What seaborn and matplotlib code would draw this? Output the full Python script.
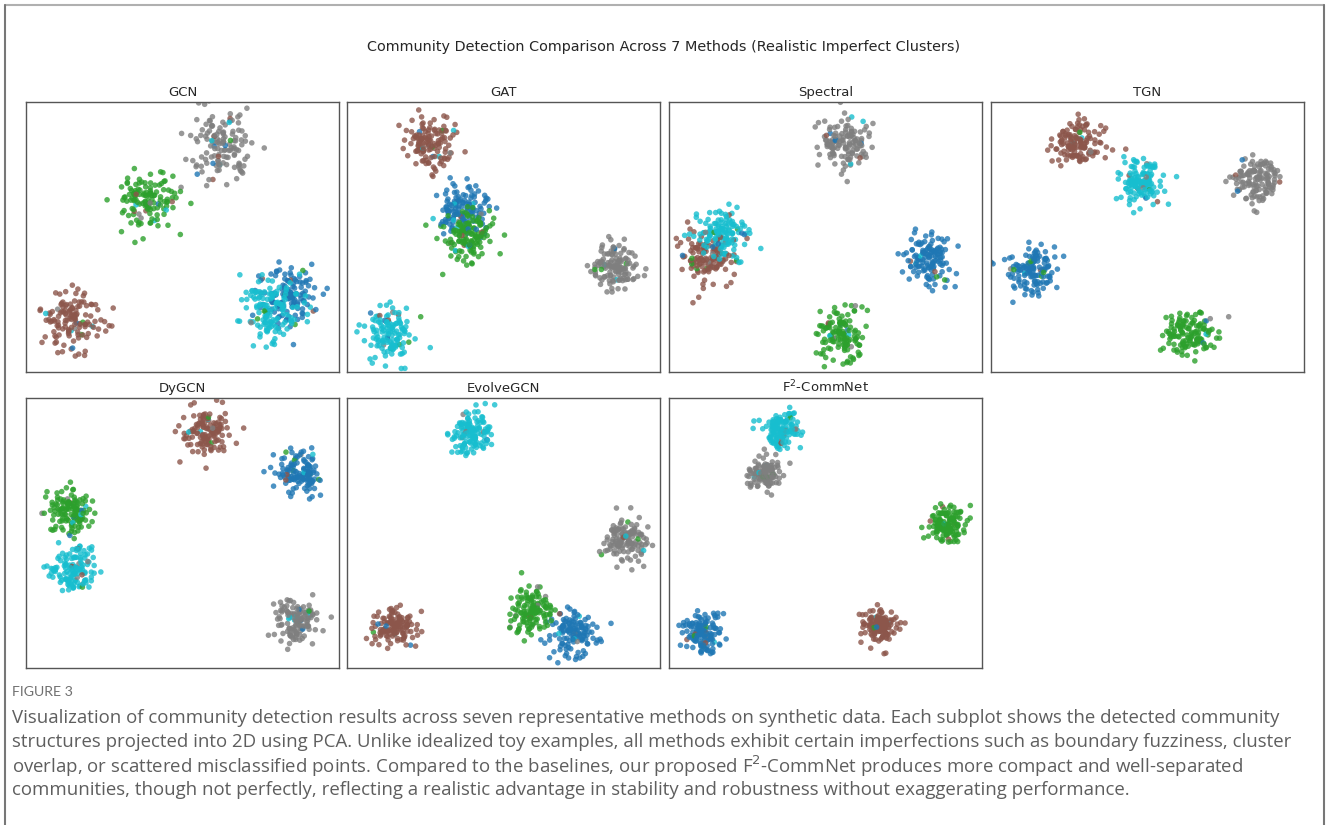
import numpy as np
import pandas as pd
import matplotlib
matplotlib.use("Agg")
import matplotlib.pyplot as plt
from matplotlib.lines import Line2D
import seaborn as sns

sns.set_theme(style="white")
plt.rcParams["font.family"] = ["DejaVu Sans"]

# ---- data -------------------------------------------------------------
methods = ["GCN", "GAT", "Spectral", "TGN", "DyGCN", "EvolveGCN", "F$^2$-CommNet"]
communities = [0, 1, 2, 3, 4]          # 0 blue, 1 green, 2 brown, 3 gray, 4 cyan

# community centres (x, y) in each panel's unit square, order = communities
centers_gcn = [(0.85, 0.29), (0.40, 0.64), (0.15, 0.19), (0.62, 0.84), (0.79, 0.23)]
centers_gat = [(0.37, 0.60), (0.39, 0.50), (0.27, 0.85), (0.85, 0.39), (0.14, 0.14)]
centers_spectral = [(0.83, 0.41), (0.55, 0.14), (0.125, 0.42), (0.56, 0.85), (0.17, 0.51)]
centers_tgn = [(0.13, 0.37), (0.64, 0.14), (0.28, 0.85), (0.85, 0.72), (0.48, 0.70)]
centers_dygcn = [(0.87, 0.72), (0.14, 0.58), (0.58, 0.88), (0.87, 0.17), (0.15, 0.36)]
centers_evolve = [(0.72, 0.13), (0.59, 0.21), (0.15, 0.15), (0.89, 0.48), (0.40, 0.87)]
centers_f2 = [(0.11, 0.13), (0.89, 0.53), (0.67, 0.15), (0.31, 0.72), (0.36, 0.88)]
centers = [centers_gcn, centers_gat, centers_spectral, centers_tgn,
           centers_dygcn, centers_evolve, centers_f2]

# cluster spread (std, fraction of panel width) and share of mislabelled nodes
spread = [0.050, 0.040, 0.040, 0.040, 0.036, 0.034, 0.028]
mislabel_rate = [0.08, 0.07, 0.07, 0.06, 0.06, 0.05, 0.04]
nodes_per_community = 130

palette = {0: "#1f77b4", 1: "#2ca02c", 2: "#8c564b", 3: "#7f7f7f", 4: "#17becf"}

title = "Community Detection Comparison Across 7 Methods (Realistic Imperfect Clusters)"
caption_head = "FIGURE 3"
caption_lines = [
    "Visualization of community detection results across seven representative methods on synthetic data. Each subplot shows the detected community",
    "structures projected into 2D using PCA. Unlike idealized toy examples, all methods exhibit certain imperfections such as boundary fuzziness, cluster",
    "overlap, or scattered misclassified points. Compared to the baselines, our proposed F$^2$-CommNet produces more compact and well-separated",
    "communities, though not perfectly, reflecting a realistic advantage in stability and robustness without exaggerating performance.",
]

# ---- synthetic embeddings ---------------------------------------------
rng = np.random.default_rng(7)
W, H = 1327, 825
panel_w, panel_h = 313, 270
aspect = panel_w / panel_h


def embed(cent, sd, rate):
    rows = []
    for c, (cx, cy) in zip(communities, cent):
        xs = rng.normal(cx, sd, nodes_per_community)
        ys = rng.normal(cy, sd * aspect, nodes_per_community)
        lab = np.full(nodes_per_community, c)
        flip = rng.random(nodes_per_community) < rate
        others = [o for o in communities if o != c]
        lab[flip] = rng.choice(others, flip.sum())
        rows.append(pd.DataFrame({"x": xs, "y": ys, "label": lab}))
    return pd.concat(rows, ignore_index=True)


# ---- figure -----------------------------------------------------------
fig = plt.figure(figsize=(W / 100, H / 100), dpi=100)
fig.patch.set_facecolor("white")

col_left = [26, 347, 669, 991]
row_top = [102, 398]

for i, name in enumerate(methods):
    r, c = divmod(i, 4)
    left = col_left[c] / W
    bottom = 1 - (row_top[r] + panel_h) / H
    ax = fig.add_axes([left, bottom, panel_w / W, panel_h / H])
    df = embed(centers[i], spread[i], mislabel_rate[i])
    sns.scatterplot(data=df, x="x", y="y", hue="label", palette=palette,
                    s=16, alpha=0.8, linewidth=0, legend=False, ax=ax)
    ax.set_xlim(0, 1)
    ax.set_ylim(0, 1)
    ax.set_xticks([])
    ax.set_yticks([])
    ax.set_xlabel("")
    ax.set_ylabel("")
    ax.set_title(name, fontsize=9.5, pad=4)
    for sp in ax.spines.values():
        sp.set_color("#555555")
        sp.set_linewidth(1.0)

fig.text(664 / W, 1 - 47 / H, title, ha="center", va="center", fontsize=10.4)

# page frame (open at the bottom)
fx0, fx1, fy1 = 5 / W, 1324 / W, 1 - 5 / H
fig.add_artist(Line2D([fx0, fx1], [fy1, fy1], color="#b0b0b0", lw=1.5,
                      transform=fig.transFigure))
fig.add_artist(Line2D([fx0, fx0], [0, fy1], color="#777777", lw=1.5,
                      transform=fig.transFigure))
fig.add_artist(Line2D([fx1, fx1], [0, fy1], color="#777777", lw=1.5,
                      transform=fig.transFigure))

# caption
fig.text(12 / W, 1 - 692 / H, caption_head, ha="left", va="center",
         fontsize=10.2, color="#707070", family="Lato")
for k, line in enumerate(caption_lines):
    fig.text(12 / W, 1 - (718 + 24 * k) / H, line, ha="left", va="center",
             fontsize=13.4, color="#5e5e5e", family="Open Sans")

fig.savefig("out.png", dpi=100, facecolor="white")
